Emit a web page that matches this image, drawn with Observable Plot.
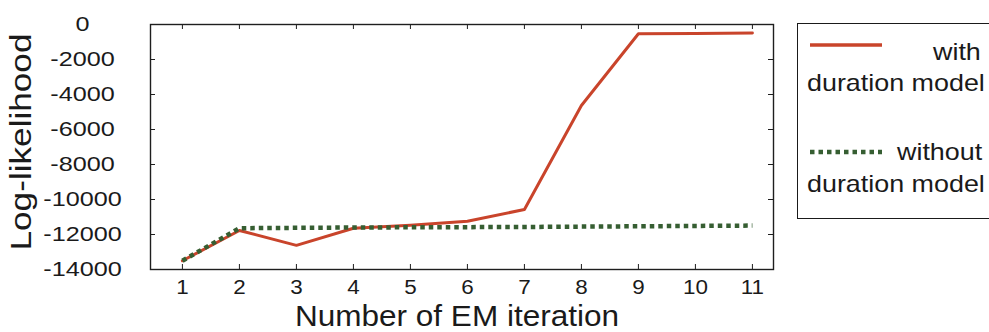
<!DOCTYPE html>
<html>
<head>
<meta charset="utf-8">
<script src="https://cdn.jsdelivr.net/npm/d3@7"></script>
<script src="https://cdn.jsdelivr.net/npm/@observablehq/plot@0.6"></script>
<style>
  html, body { margin: 0; padding: 0; background: #ffffff; overflow: hidden; }
  #wrap { position: relative; width: 989px; height: 332px; overflow: hidden; font-family: "Liberation Sans", Arial, sans-serif; color: #1a1a1a; }
  #wrap svg { position: absolute; left: 0; top: 0; }
  #legend { position: absolute; left: 797px; top: 23px; width: 230px; height: 196px; border: 1.5px solid #1a1a1a; box-sizing: border-box; background: #fff; }
  #legend .t { position: absolute; font-size: 24px; line-height: 1; white-space: nowrap; transform: scaleX(1.12); transform-origin: left center; }
  #legend .sw { position: absolute; }
</style>
</head>
<body>
<div id="wrap"></div>
<script>
// ---- data ----
const iterations = [1, 2, 3, 4, 5, 6, 7, 8, 9, 10, 11];
const withDuration = [-13500, -11770, -12620, -11640, -11470, -11240, -10570, -4630, -530, -510, -480];
const withoutDuration = [-13500, -11640, -11620, -11600, -11590, -11580, -11570, -11550, -11530, -11510, -11490];
const xTicks = [1, 2, 3, 4, 5, 6, 7, 8, 9, 10, 11];
const yTicks = [0, -2000, -4000, -6000, -8000, -10000, -12000, -14000];
const seriesNames = ["with duration model", "without duration model"];
const xLabel = "Number of EM iteration";
const yLabel = "Log-likelihood";

const redColor = "#c9442b";
const greenColor = "#365e32";

const rowsWith = iterations.map((x, i) => ({x, y: withDuration[i]}));
const rowsWithout = iterations.map((x, i) => ({x, y: withoutDuration[i]}));

const W = 989, H = 332;
const mL = 150, mR = 216, mT = 24, mB = 63;
const plotW = W - mL - mR, plotH = H - mT - mB;
const tickLen = 5;

const chart = Plot.plot({
  width: W, height: H,
  marginLeft: mL, marginRight: mR, marginTop: mT, marginBottom: mB,
  style: {fontFamily: "'Liberation Sans', Arial, sans-serif", background: "transparent", color: "#1a1a1a", overflow: "visible"},
  x: {domain: [0.44, 11.37]},
  y: {domain: [-14000, 0]},
  marks: [
    Plot.axisX(xTicks, {tickSize: 0, tickPadding: 10, fontSize: 20, label: null, tickFormat: d => String(d)}),
    Plot.axisY(yTicks, {tickSize: 0, tickPadding: 68, textAnchor: "middle", fontSize: 21, label: null, tickFormat: d => String(d)}),
    Plot.tickX(xTicks, {x: d => d, insetTop: plotH - tickLen, stroke: "#1e1e1e"}),
    Plot.tickX(xTicks, {x: d => d, insetBottom: plotH - tickLen, stroke: "#1e1e1e"}),
    Plot.tickY(yTicks, {y: d => d, insetLeft: plotW - tickLen, stroke: "#1e1e1e"}),
    Plot.tickY(yTicks, {y: d => d, insetRight: plotW - tickLen, stroke: "#1e1e1e"}),
    Plot.line(rowsWith, {x: "x", y: "y", stroke: redColor, strokeWidth: 3}),
    Plot.line(rowsWithout, {x: "x", y: "y", stroke: greenColor, strokeWidth: 4.5, strokeDasharray: "4.5,4", strokeLinecap: "butt"}),
    Plot.frame({stroke: "#1e1e1e", strokeWidth: 1.4}),
    Plot.text([xLabel], {frameAnchor: "bottom", text: d => d, textAnchor: "middle", dx: -5, dy: 47, lineAnchor: "middle", fontSize: 29, fill: "#1a1a1a"}),
    Plot.text([yLabel], {frameAnchor: "left", text: d => d, textAnchor: "middle", rotate: -90, dx: -129, dy: -5, lineAnchor: "middle", fontSize: 30, fill: "#1a1a1a"})
  ]
});

const wrap = document.getElementById("wrap");
wrap.appendChild(chart);

// horizontal stretch of the text to match the wide typeface of the reference
function setLen(t, target) {
  t.setAttribute("textLength", target.toFixed(2));
  t.setAttribute("lengthAdjust", "spacingAndGlyphs");
}
const yTickSet = new Set(yTicks.map(String));
const xTickSet = new Set(xTicks.map(String));
chart.querySelectorAll("text").forEach(t => {
  const s = t.textContent;
  const len = t.getComputedTextLength();
  if (!(len > 0)) return;
  if (s === xLabel) setLen(t, 324);
  else if (s === yLabel) setLen(t, 217);
  else if (yTickSet.has(s) && !xTickSet.has(s)) setLen(t, len * 1.2);
  else if (xTickSet.has(s)) setLen(t, len * 1.12);
});

// legend
const legend = document.createElement("div");
legend.id = "legend";
legend.innerHTML = `
  <svg class="sw" style="left:12px;top:17px" width="74" height="8"><line x1="0" x2="72" y1="4" y2="4" stroke="${redColor}" stroke-width="3.5"/></svg>
  <div class="t" style="left:135px;top:16px">with</div>
  <div class="t" style="left:9px;top:47px">duration model</div>
  <svg class="sw" style="left:12px;top:124px" width="74" height="8"><line x1="0" x2="72" y1="4" y2="4" stroke="${greenColor}" stroke-width="4.5" stroke-dasharray="4.5,4"/></svg>
  <div class="t" style="left:99px;top:116px">without</div>
  <div class="t" style="left:9px;top:148px">duration model</div>
`;
wrap.appendChild(legend);
</script>
</body>
</html>
